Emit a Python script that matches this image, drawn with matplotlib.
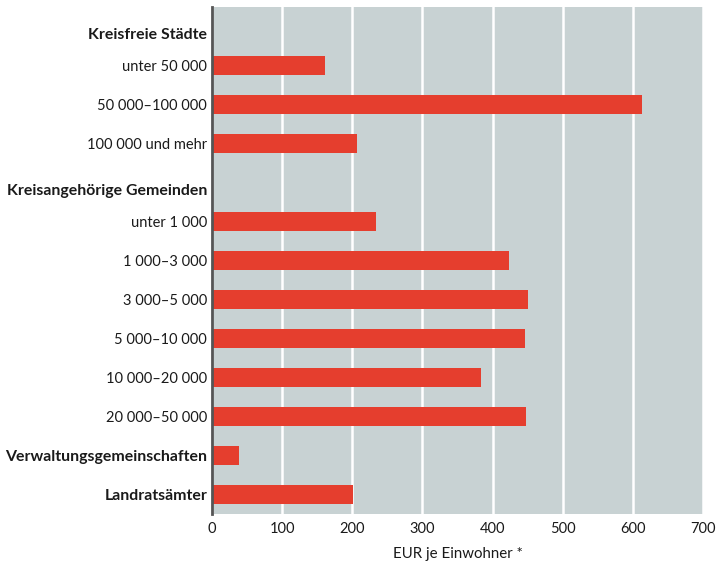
import matplotlib
matplotlib.use("Agg")
import matplotlib.pyplot as plt
import matplotlib.transforms as mtransforms
import numpy as np

plt.rcParams['font.family'] = ['Lato', 'DejaVu Sans']

labels = ['Kreisfreie Städte', 'unter 50 000', '50 000–100 000', '100 000 und mehr',
          'Kreisangehörige Gemeinden', 'unter 1 000', '1 000–3 000', '3 000–5 000',
          '5 000–10 000', '10 000–20 000', '20 000–50 000',
          'Verwaltungsgemeinschaften', 'Landratsämter']
values = [np.nan, 161, 613, 207, np.nan, 234, 424, 451, 446, 384, 448, 38, 201]
bold = [True, False, False, False, True, False, False, False, False, False, False, True, True]
header = [True, False, False, False, True, False, False, False, False, False, False, False, False]

fig = plt.figure(figsize=(7.19, 5.66), dpi=100)
ax = fig.add_axes([0.2949, 0.0919, 0.6828, 0.8957])
ax.set_facecolor('#c8d2d3')

y = np.arange(len(labels))
ax.barh(y, np.nan_to_num(values), height=0.5, color='#e53e2e', zorder=3)

ax.set_xlim(0, 700)
ax.set_ylim(len(labels) - 0.5, -0.5)
ax.set_xticks(range(0, 701, 100))
ax.grid(axis='x', color='white', linewidth=1.8, zorder=1)
ax.grid(axis='y', visible=False)

for s in ['top', 'right', 'bottom']:
    ax.spines[s].set_visible(False)
ax.spines['left'].set_color('#555555')
ax.spines['left'].set_linewidth(2)
ax.spines['left'].set_zorder(4)

ax.set_yticks(y)
ax.set_yticklabels(labels)
ax.tick_params(axis='both', length=0, labelsize=10.5, colors='#1a1a1a')
ax.tick_params(axis='y', pad=3.5)
ax.tick_params(axis='x', pad=6)
for lab, b, h in zip(ax.get_yticklabels(), bold, header):
    if b:
        lab.set_fontweight('bold')
        lab.set_fontsize(11.4)
    if h:
        lab.set_transform(lab.get_transform() +
                          mtransforms.ScaledTranslation(0, -5 / 72, fig.dpi_scale_trans))

ax.set_xlabel('EUR je Einwohner *', fontsize=10.8, color='#1a1a1a', labelpad=8)

fig.savefig('out.png', dpi=100)
